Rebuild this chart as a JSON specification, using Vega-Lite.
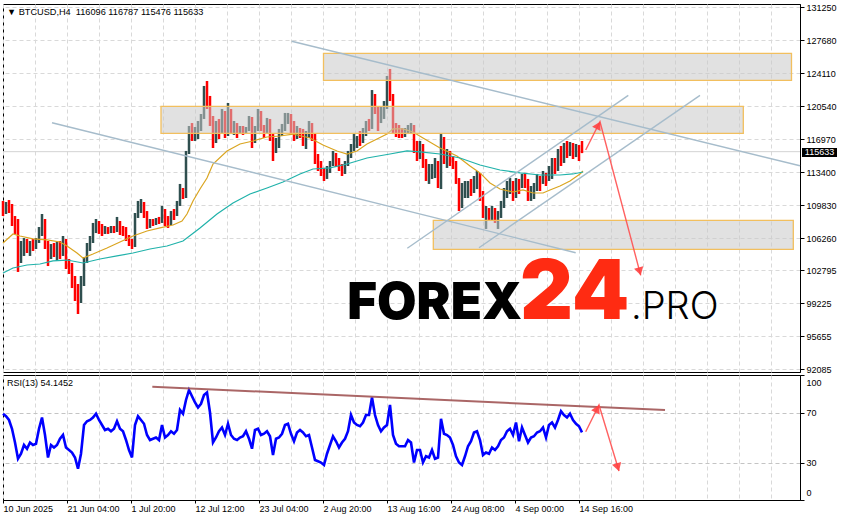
{
"$schema": "https://vega.github.io/schema/vega-lite/v6.json",
"background": "white",
"padding": {"left": -3, "top": 2, "right": 0, "bottom": 0},
"spacing": -1,
"config": {
  "view": {"stroke": "black", "strokeWidth": 1},
  "font": "Liberation Sans",
  "axis": {"labelFont": "Liberation Sans", "labelFontSize": 9, "labelColor": "black", "domainColor": "black", "tickColor": "black", "gridColor": "#d9d9d9", "gridDash": [4, 3], "gridWidth": 1, "labelOverlap": false, "title": null}
},
"resolve": {"scale": {"x": "independent", "y": "independent"}},
"datasets": {
  "bars": [
{"b":0,"o":109760,"h":110300,"l":108670,"c":109210,"r":69},
{"b":3,"o":109210,"h":110190,"l":108890,"c":109860,"r":67},
{"b":6,"o":109860,"h":110400,"l":109000,"c":109430,"r":64},
{"b":9,"o":109430,"h":109970,"l":107590,"c":107920,"r":57},
{"b":12,"o":107920,"h":108670,"l":106730,"c":107050,"r":46},
{"b":15,"o":107050,"h":108350,"l":102620,"c":104350,"r":33},
{"b":18,"o":104350,"h":105970,"l":103590,"c":105430,"r":37},
{"b":21,"o":105430,"h":106290,"l":104350,"c":105970,"r":44},
{"b":24,"o":105970,"h":106190,"l":104670,"c":105100,"r":41},
{"b":27,"o":105100,"h":105970,"l":104350,"c":105540,"r":46},
{"b":30,"o":105540,"h":106190,"l":104890,"c":105320,"r":44},
{"b":33,"o":105320,"h":106290,"l":105100,"c":105970,"r":45},
{"b":36,"o":105970,"h":107480,"l":105750,"c":107050,"r":57},
{"b":39,"o":107050,"h":108890,"l":106510,"c":107920,"r":66},
{"b":42,"o":107920,"h":108350,"l":105100,"c":105540,"r":52},
{"b":45,"o":105540,"h":105970,"l":103260,"c":104890,"r":34},
{"b":48,"o":104890,"h":105640,"l":104020,"c":105320,"r":44},
{"b":51,"o":105320,"h":105750,"l":104240,"c":104890,"r":42},
{"b":54,"o":104890,"h":105860,"l":103810,"c":105210,"r":44},
{"b":57,"o":105210,"h":105970,"l":104020,"c":104670,"r":49},
{"b":60,"o":104670,"h":106510,"l":104350,"c":105970,"r":52},
{"b":63,"o":105970,"h":106190,"l":102940,"c":103590,"r":42},
{"b":66,"o":103590,"h":104020,"l":102400,"c":103260,"r":40},
{"b":69,"o":103260,"h":103590,"l":100880,"c":101320,"r":38},
{"b":72,"o":101320,"h":102180,"l":99480,"c":100020,"r":34},
{"b":75,"o":100020,"h":101320,"l":98070,"c":99480,"r":25},
{"b":78,"o":99480,"h":102180,"l":99260,"c":101430,"r":37},
{"b":81,"o":101430,"h":104240,"l":101100,"c":103810,"r":60},
{"b":84,"o":103810,"h":105750,"l":103590,"c":105100,"r":63},
{"b":87,"o":105100,"h":106510,"l":104890,"c":105970,"r":64},
{"b":90,"o":105970,"h":107920,"l":105750,"c":107480,"r":66},
{"b":93,"o":107480,"h":108350,"l":106830,"c":107920,"r":69},
{"b":96,"o":107920,"h":108130,"l":106730,"c":107050,"r":64},
{"b":99,"o":107050,"h":107810,"l":106510,"c":106940,"r":60},
{"b":102,"o":106940,"h":107590,"l":106730,"c":107270,"r":56},
{"b":105,"o":107270,"h":107480,"l":106730,"c":107050,"r":57},
{"b":108,"o":107050,"h":107590,"l":106830,"c":107380,"r":55},
{"b":111,"o":107380,"h":107590,"l":106830,"c":107160,"r":57},
{"b":114,"o":107160,"h":108570,"l":106940,"c":107920,"r":63},
{"b":117,"o":107920,"h":108130,"l":106620,"c":107270,"r":57},
{"b":120,"o":107270,"h":107590,"l":106510,"c":107050,"r":55},
{"b":123,"o":107050,"h":107480,"l":105970,"c":106400,"r":48},
{"b":126,"o":106400,"h":106620,"l":105430,"c":105970,"r":40},
{"b":129,"o":105970,"h":106190,"l":105100,"c":105540,"r":34},
{"b":132,"o":105540,"h":109000,"l":105320,"c":108670,"r":60},
{"b":135,"o":108670,"h":110300,"l":108460,"c":109760,"r":67},
{"b":138,"o":109760,"h":110510,"l":109000,"c":109970,"r":64},
{"b":141,"o":109970,"h":110190,"l":108460,"c":109000,"r":61},
{"b":144,"o":109000,"h":109210,"l":107270,"c":107590,"r":52},
{"b":147,"o":107590,"h":108350,"l":107380,"c":108130,"r":48},
{"b":150,"o":108130,"h":108350,"l":107590,"c":107920,"r":49},
{"b":153,"o":107920,"h":108460,"l":107700,"c":108240,"r":50},
{"b":156,"o":108240,"h":108570,"l":107810,"c":108130,"r":48},
{"b":159,"o":108130,"h":109760,"l":107920,"c":109210,"r":60},
{"b":162,"o":109210,"h":109430,"l":107590,"c":108130,"r":50},
{"b":165,"o":108130,"h":108670,"l":107380,"c":107920,"r":52},
{"b":168,"o":107920,"h":109210,"l":107700,"c":108890,"r":55},
{"b":171,"o":108890,"h":109430,"l":108240,"c":108780,"r":53},
{"b":174,"o":108780,"h":110300,"l":108670,"c":109970,"r":56},
{"b":177,"o":109970,"h":112140,"l":109760,"c":111380,"r":72},
{"b":180,"o":111380,"h":111700,"l":110510,"c":110840,"r":69},
{"b":183,"o":110840,"h":115710,"l":110620,"c":115490,"r":80},
{"b":186,"o":115490,"h":118410,"l":115380,"c":117870,"r":88},
{"b":189,"o":117870,"h":118730,"l":116790,"c":117330,"r":83},
{"b":192,"o":117330,"h":118300,"l":116790,"c":117650,"r":78},
{"b":195,"o":117650,"h":118950,"l":117000,"c":118090,"r":74},
{"b":198,"o":118090,"h":119710,"l":117870,"c":119490,"r":77},
{"b":201,"o":119490,"h":122740,"l":119170,"c":122200,"r":84},
{"b":204,"o":122200,"h":123280,"l":120250,"c":120570,"r":86},
{"b":207,"o":120570,"h":121660,"l":118410,"c":118950,"r":70},
{"b":210,"o":118950,"h":119490,"l":116030,"c":116790,"r":46},
{"b":213,"o":116790,"h":118950,"l":116570,"c":118410,"r":50},
{"b":216,"o":118410,"h":119170,"l":117000,"c":117870,"r":55},
{"b":219,"o":117870,"h":120250,"l":117650,"c":119820,"r":58},
{"b":222,"o":119820,"h":120030,"l":117110,"c":117650,"r":52},
{"b":225,"o":117650,"h":120900,"l":117330,"c":120030,"r":61},
{"b":228,"o":120030,"h":120250,"l":117540,"c":118090,"r":52},
{"b":231,"o":118090,"h":118950,"l":117440,"c":118300,"r":49},
{"b":234,"o":118300,"h":118730,"l":117110,"c":117870,"r":48},
{"b":237,"o":117870,"h":118410,"l":117540,"c":118090,"r":50},
{"b":240,"o":118090,"h":118410,"l":117440,"c":117870,"r":51},
{"b":243,"o":117870,"h":118300,"l":117540,"c":118090,"r":55},
{"b":246,"o":118090,"h":119490,"l":117870,"c":119170,"r":49},
{"b":249,"o":119170,"h":119380,"l":116030,"c":116790,"r":41},
{"b":252,"o":116790,"h":118410,"l":116570,"c":118090,"r":56},
{"b":255,"o":118090,"h":120250,"l":117870,"c":119820,"r":57},
{"b":258,"o":119820,"h":120030,"l":117870,"c":118300,"r":52},
{"b":261,"o":118300,"h":118520,"l":117110,"c":117870,"r":53},
{"b":264,"o":117870,"h":119280,"l":117540,"c":118950,"r":55},
{"b":267,"o":118950,"h":119170,"l":116790,"c":117330,"r":51},
{"b":270,"o":117330,"h":117540,"l":114620,"c":115710,"r":36},
{"b":273,"o":115710,"h":117110,"l":115490,"c":116790,"r":49},
{"b":276,"o":116790,"h":118090,"l":116030,"c":117650,"r":50},
{"b":279,"o":117650,"h":118630,"l":117330,"c":118090,"r":53},
{"b":282,"o":118090,"h":119820,"l":117870,"c":119170,"r":60},
{"b":285,"o":119170,"h":119820,"l":118630,"c":119490,"r":61},
{"b":288,"o":119490,"h":119710,"l":117540,"c":118090,"r":53},
{"b":291,"o":118090,"h":118950,"l":116790,"c":117650,"r":47},
{"b":294,"o":117650,"h":118410,"l":117000,"c":117870,"r":54},
{"b":297,"o":117870,"h":118190,"l":117110,"c":117540,"r":56},
{"b":300,"o":117540,"h":118090,"l":116250,"c":116790,"r":54},
{"b":303,"o":116790,"h":117870,"l":115920,"c":117330,"r":51},
{"b":306,"o":117330,"h":118950,"l":117110,"c":118410,"r":52},
{"b":309,"o":118410,"h":118730,"l":116790,"c":117330,"r":42},
{"b":312,"o":117330,"h":117540,"l":114300,"c":114840,"r":32},
{"b":315,"o":114840,"h":115380,"l":113540,"c":114080,"r":31},
{"b":318,"o":114080,"h":114620,"l":113000,"c":113330,"r":30},
{"b":321,"o":113330,"h":113870,"l":112460,"c":112890,"r":28},
{"b":324,"o":112890,"h":114080,"l":112680,"c":113760,"r":37},
{"b":327,"o":113760,"h":114620,"l":113330,"c":114300,"r":44},
{"b":330,"o":114300,"h":115710,"l":114080,"c":115160,"r":51},
{"b":333,"o":115160,"h":115490,"l":113970,"c":114620,"r":47},
{"b":336,"o":114620,"h":114950,"l":113540,"c":114080,"r":42},
{"b":339,"o":114080,"h":114300,"l":113000,"c":113540,"r":46},
{"b":342,"o":113540,"h":114620,"l":113220,"c":114300,"r":49},
{"b":345,"o":114300,"h":115710,"l":114080,"c":115380,"r":55},
{"b":348,"o":115380,"h":116460,"l":114950,"c":115920,"r":68},
{"b":351,"o":115920,"h":117540,"l":115710,"c":117110,"r":62},
{"b":354,"o":117110,"h":117330,"l":116030,"c":117220,"r":60},
{"b":357,"o":117220,"h":117870,"l":116250,"c":116790,"r":59},
{"b":360,"o":116790,"h":118190,"l":116570,"c":117540,"r":62},
{"b":363,"o":117540,"h":118950,"l":117330,"c":118630,"r":68},
{"b":366,"o":118630,"h":119170,"l":117870,"c":118300,"r":68},
{"b":369,"o":118300,"h":122300,"l":118090,"c":121660,"r":82},
{"b":372,"o":121660,"h":121870,"l":119710,"c":120030,"r":68},
{"b":375,"o":120030,"h":120570,"l":117870,"c":119170,"r":60},
{"b":378,"o":119170,"h":120570,"l":118730,"c":120250,"r":55},
{"b":381,"o":120250,"h":121110,"l":119170,"c":120790,"r":58},
{"b":384,"o":120790,"h":123820,"l":120250,"c":123280,"r":60},
{"b":387,"o":123280,"h":124580,"l":121110,"c":121660,"r":76},
{"b":390,"o":121660,"h":121870,"l":117540,"c":118410,"r":52},
{"b":393,"o":118410,"h":118730,"l":117220,"c":118090,"r":45},
{"b":396,"o":118090,"h":118520,"l":117110,"c":117870,"r":43},
{"b":399,"o":117870,"h":118190,"l":117110,"c":117540,"r":43},
{"b":402,"o":117540,"h":118190,"l":117220,"c":117870,"r":43},
{"b":405,"o":117870,"h":118520,"l":117540,"c":118190,"r":48},
{"b":408,"o":118190,"h":118730,"l":117540,"c":118300,"r":46},
{"b":411,"o":118300,"h":118520,"l":115490,"c":115920,"r":30},
{"b":414,"o":115920,"h":116790,"l":114620,"c":115160,"r":40},
{"b":417,"o":115160,"h":116790,"l":114840,"c":116250,"r":40},
{"b":420,"o":116250,"h":116460,"l":113870,"c":114620,"r":30},
{"b":423,"o":114620,"h":114840,"l":112460,"c":113000,"r":35},
{"b":426,"o":113000,"h":114300,"l":112140,"c":113540,"r":34},
{"b":429,"o":113540,"h":114300,"l":112680,"c":113760,"r":40},
{"b":432,"o":113760,"h":114950,"l":112780,"c":114410,"r":33},
{"b":435,"o":114410,"h":114620,"l":111700,"c":112460,"r":34},
{"b":438,"o":112460,"h":117540,"l":111590,"c":117000,"r":65},
{"b":441,"o":117000,"h":117220,"l":114300,"c":114840,"r":53},
{"b":444,"o":114840,"h":115920,"l":113870,"c":115160,"r":52},
{"b":447,"o":115160,"h":115710,"l":114080,"c":114620,"r":50},
{"b":450,"o":114620,"h":115160,"l":113760,"c":114410,"r":44},
{"b":453,"o":114410,"h":114620,"l":112140,"c":112680,"r":35},
{"b":456,"o":112680,"h":112780,"l":109210,"c":109970,"r":30},
{"b":459,"o":109970,"h":112240,"l":109540,"c":111380,"r":28},
{"b":462,"o":111380,"h":112460,"l":110620,"c":111920,"r":35},
{"b":465,"o":111920,"h":112460,"l":110620,"c":112140,"r":43},
{"b":468,"o":112140,"h":112680,"l":110840,"c":111590,"r":47},
{"b":471,"o":111590,"h":113000,"l":111160,"c":112680,"r":54},
{"b":474,"o":112680,"h":113540,"l":111590,"c":113110,"r":55},
{"b":477,"o":113110,"h":113330,"l":110300,"c":110730,"r":48},
{"b":480,"o":110730,"h":111380,"l":108460,"c":109000,"r":36},
{"b":483,"o":109000,"h":109760,"l":107270,"c":109210,"r":38},
{"b":486,"o":109210,"h":109540,"l":108130,"c":108780,"r":37},
{"b":489,"o":108780,"h":109760,"l":108130,"c":109320,"r":42},
{"b":492,"o":109320,"h":109540,"l":107920,"c":108670,"r":40},
{"b":495,"o":108670,"h":109210,"l":107270,"c":109000,"r":43},
{"b":498,"o":109000,"h":110300,"l":108460,"c":109970,"r":48},
{"b":501,"o":109970,"h":111700,"l":109540,"c":111380,"r":50},
{"b":504,"o":111380,"h":112460,"l":110620,"c":111920,"r":55},
{"b":507,"o":111920,"h":112780,"l":111050,"c":112240,"r":57},
{"b":510,"o":112240,"h":112460,"l":110300,"c":110840,"r":52},
{"b":513,"o":110840,"h":112780,"l":110620,"c":112460,"r":62},
{"b":516,"o":112460,"h":112680,"l":111050,"c":111920,"r":47},
{"b":519,"o":111920,"h":113220,"l":111700,"c":112890,"r":58},
{"b":522,"o":112890,"h":113330,"l":111700,"c":112460,"r":52},
{"b":525,"o":112460,"h":112680,"l":110300,"c":110840,"r":46},
{"b":528,"o":110840,"h":111920,"l":110300,"c":111380,"r":50},
{"b":531,"o":111380,"h":112240,"l":110510,"c":111810,"r":51},
{"b":534,"o":111810,"h":113220,"l":111380,"c":112890,"r":54},
{"b":537,"o":112890,"h":113000,"l":111380,"c":112460,"r":55},
{"b":540,"o":112460,"h":113540,"l":112140,"c":113220,"r":58},
{"b":543,"o":113220,"h":113330,"l":111920,"c":112680,"r":50},
{"b":546,"o":112680,"h":114080,"l":112460,"c":113760,"r":60},
{"b":549,"o":113760,"h":114950,"l":112680,"c":114620,"r":62},
{"b":552,"o":114620,"h":114950,"l":113220,"c":114080,"r":58},
{"b":555,"o":114080,"h":115920,"l":113540,"c":115490,"r":64},
{"b":558,"o":115490,"h":116250,"l":114080,"c":114620,"r":71},
{"b":561,"o":114620,"h":116570,"l":114410,"c":116140,"r":68},
{"b":564,"o":116140,"h":116790,"l":114950,"c":115710,"r":66},
{"b":567,"o":115710,"h":116680,"l":115160,"c":116250,"r":69},
{"b":570,"o":116250,"h":116570,"l":114840,"c":115490,"r":64},
{"b":573,"o":115490,"h":116460,"l":115050,"c":116140,"r":61},
{"b":576,"o":116140,"h":116350,"l":114620,"c":116030,"r":59},
{"b":579,"o":116096,"h":116787,"l":115476,"c":115633,"r":54.1452}
  ],
  "ma": [
{"s":"fast","b":0,"p":105750},{"s":"fast","b":10,"p":106730},{"s":"fast","b":17,"p":106510},{"s":"fast","b":30,"p":106190},{"s":"fast","b":44,"p":106080},{"s":"fast","b":57,"p":105860},{"s":"fast","b":64,"p":105430},{"s":"fast","b":74,"p":104670},{"s":"fast","b":80,"p":104130},{"s":"fast","b":90,"p":104560},{"s":"fast","b":104,"p":105210},{"s":"fast","b":117,"p":105860},{"s":"fast","b":130,"p":106510},{"s":"fast","b":144,"p":107050},{"s":"fast","b":157,"p":107380},{"s":"fast","b":170,"p":107700},{"s":"fast","b":179,"p":108130},{"s":"fast","b":184,"p":108890},{"s":"fast","b":190,"p":110300},{"s":"fast","b":197,"p":111590},{"s":"fast","b":204,"p":112780},{"s":"fast","b":210,"p":114300},{"s":"fast","b":224,"p":115710},{"s":"fast","b":237,"p":116460},{"s":"fast","b":250,"p":116790},{"s":"fast","b":264,"p":117220},{"s":"fast","b":277,"p":117330},{"s":"fast","b":290,"p":117540},{"s":"fast","b":307,"p":117110},{"s":"fast","b":320,"p":116350},{"s":"fast","b":334,"p":115710},{"s":"fast","b":344,"p":115380},{"s":"fast","b":354,"p":115710},{"s":"fast","b":364,"p":116460},{"s":"fast","b":374,"p":117000},{"s":"fast","b":384,"p":117540},{"s":"fast","b":390,"p":118090},{"s":"fast","b":400,"p":118090},{"s":"fast","b":410,"p":117760},{"s":"fast","b":420,"p":117110},{"s":"fast","b":437,"p":116030},{"s":"fast","b":454,"p":115160},{"s":"fast","b":467,"p":114080},{"s":"fast","b":477,"p":113330},{"s":"fast","b":487,"p":112240},{"s":"fast","b":497,"p":111590},{"s":"fast","b":510,"p":111270},{"s":"fast","b":520,"p":111490},{"s":"fast","b":530,"p":111160},{"s":"fast","b":540,"p":111160},{"s":"fast","b":547,"p":111490},{"s":"fast","b":557,"p":111920},{"s":"fast","b":567,"p":112460},{"s":"fast","b":577,"p":113220},{"s":"fast","b":580,"p":113540},
{"s":"slow","b":0,"p":102510},{"s":"slow","b":10,"p":103050},{"s":"slow","b":24,"p":103370},{"s":"slow","b":37,"p":103480},{"s":"slow","b":50,"p":103810},{"s":"slow","b":64,"p":103910},{"s":"slow","b":80,"p":103590},{"s":"slow","b":97,"p":104020},{"s":"slow","b":114,"p":104350},{"s":"slow","b":130,"p":104670},{"s":"slow","b":147,"p":105100},{"s":"slow","b":164,"p":105430},{"s":"slow","b":180,"p":105970},{"s":"slow","b":197,"p":107380},{"s":"slow","b":214,"p":108890},{"s":"slow","b":230,"p":110080},{"s":"slow","b":247,"p":111050},{"s":"slow","b":264,"p":111700},{"s":"slow","b":280,"p":112350},{"s":"slow","b":297,"p":113220},{"s":"slow","b":310,"p":113760},{"s":"slow","b":327,"p":113870},{"s":"slow","b":344,"p":114300},{"s":"slow","b":364,"p":114950},{"s":"slow","b":387,"p":115380},{"s":"slow","b":404,"p":115710},{"s":"slow","b":417,"p":115600},{"s":"slow","b":437,"p":115380},{"s":"slow","b":457,"p":114950},{"s":"slow","b":477,"p":114190},{"s":"slow","b":497,"p":113650},{"s":"slow","b":517,"p":113330},{"s":"slow","b":537,"p":113110},{"s":"slow","b":557,"p":113110},{"s":"slow","b":570,"p":113220},{"s":"slow","b":580,"p":113430}
  ],
  "zones": [
{"b1":320.5,"b2":788.5,"p1":126274,"p2":123353},
{"b1":158,"b2":740.3,"p1":120540,"p2":117619},
{"b1":430.3,"b2":790.3,"p1":108208,"p2":105071}
  ],
  "lines": [
{"id":"L1","b":49,"p":118766},{"id":"L1","b":572.7,"p":104703},
{"id":"L2","b":288.7,"p":127572},{"id":"L2","b":797,"p":114104},
{"id":"L3","b":404.3,"p":105179},{"id":"L3","b":625.3,"p":121730},
{"id":"L4","b":476,"p":105243},{"id":"L4","b":697,"p":121730}
  ],
  "arrow": [
{"b":582.7,"p":115812},{"b":597,"p":118874},{"b":637.7,"p":102257}
  ],
  "rsiline": [
{"b":149.3,"r":90.6},{"b":662,"r":72}
  ],
  "rsiarrow": [
{"b":582.7,"r":54.6},{"b":596,"r":76},{"b":616,"r":23.2}
  ]
},
"vconcat": [
{
  "width": 797,
  "height": 368,
  "layer": [
    {
      "data": {"values": [{"v": 115633}]},
      "mark": {"type": "rule", "color": "#d4d4d4", "strokeWidth": 1},
      "encoding": {
        "y": {"field": "v", "type": "quantitative", "scale": {"domain": [91797, 131607], "nice": false, "zero": false},
              "axis": {"orient": "right", "values": [92085, 95655, 99225, 102795, 106260, 109830, 113400, 116970, 120540, 124110, 127680, 131250], "tickCount": 40, "format": "d", "tickSize": 4, "labelPadding": 2, "labelOverlap": false, "labelBound": false, "grid": true, "title": null}}
      }
    },
    {
      "data": {"name": "bars"},
      "mark": {"type": "rule", "strokeWidth": 2.5},
      "encoding": {
        "x": {"field": "b", "type": "quantitative", "scale": {"domain": [0, 797], "nice": false, "zero": false},
              "axis": {"orient": "bottom", "values": [0,32,64,96,128,160,192,224,256,288,320,352,384,416,448,480,512,544,576,608,640,672,704,736,768], "tickCount": 60, "labels": false, "ticks": false, "domain": false, "grid": true, "title": null, "minExtent": 0, "maxExtent": 0, "offset": 0}},
        "y": {"field": "l", "type": "quantitative", "axis": {"orient": "right", "title": null}},
        "y2": {"field": "h"},
        "color": {"condition": {"test": "datum.c > datum.o", "value": "#2f4f4f"}, "value": "#ff0000"}
      }
    },
    {
      "data": {"name": "ma"},
      "mark": {"type": "line", "strokeWidth": 1.2},
      "encoding": {
        "x": {"field": "b", "type": "quantitative"},
        "y": {"field": "p", "type": "quantitative", "axis": {"orient": "right", "title": null}},
        "color": {"field": "s", "type": "nominal", "scale": {"domain": ["fast", "slow"], "range": ["#daa520", "#20b2aa"]}, "legend": null}
      }
    },
    {
      "data": {"name": "zones"},
      "mark": {"type": "rect", "fill": "#c8c8c8", "fillOpacity": 0.55, "stroke": "#f2bf5e", "strokeWidth": 1.3},
      "encoding": {
        "x": {"field": "b1", "type": "quantitative"},
        "x2": {"field": "b2"},
        "y": {"field": "p1", "type": "quantitative", "axis": {"orient": "right", "title": null}},
        "y2": {"field": "p2"}
      }
    },
    {
      "data": {"name": "lines"},
      "mark": {"type": "line", "color": "#a6bccb", "strokeWidth": 1.4},
      "encoding": {
        "x": {"field": "b", "type": "quantitative"},
        "y": {"field": "p", "type": "quantitative", "axis": {"orient": "right", "title": null}},
        "detail": {"field": "id"}
      }
    },
    {
      "data": {"name": "arrow"},
      "mark": {"type": "line", "color": "#ff5050", "strokeWidth": 1.4, "opacity": 0.9},
      "encoding": {
        "x": {"field": "b", "type": "quantitative"},
        "y": {"field": "p", "type": "quantitative", "axis": {"orient": "right", "title": null}}
      }
    },
    {
      "data": {"values": [{}]},
      "mark": {"type": "point", "shape": "triangle-up", "filled": true, "size": 90, "angle": 27, "color": "#ff4040", "opacity": 0.9},
      "encoding": {"x": {"datum": 595.2}, "y": {"datum": 118485}}
    },
    {
      "data": {"values": [{}]},
      "mark": {"type": "point", "shape": "triangle-up", "filled": true, "size": 90, "angle": 165, "color": "#ff4040", "opacity": 0.9},
      "encoding": {"x": {"datum": 636.7}, "y": {"datum": 102680}}
    },
    {
      "data": {"values": [{"t": "▼ BTCUSD,H4\u00a0 116096 116787 115476 115633"}]},
      "mark": {"type": "text", "align": "left", "baseline": "middle", "font": "Liberation Sans", "fontSize": 9.2, "color": "black"},
      "encoding": {"x": {"datum": 4}, "y": {"datum": 130742}, "text": {"field": "t"}}
    },
    {
      "data": {"values": [{"t": "FOREX"}]},
      "mark": {"type": "text", "align": "right", "baseline": "alphabetic", "font": "Inter", "fontWeight": 900, "fontSize": 51, "color": "#000000"},
      "encoding": {"x": {"datum": 519}, "y": {"datum": 97531}, "text": {"field": "t"}}
    },
    {
      "data": {"values": [{"t": "24"}]},
      "mark": {"type": "text", "align": "left", "baseline": "alphabetic", "font": "Inter", "fontWeight": 900, "fontSize": 82, "color": "#ff2b12"},
      "encoding": {"x": {"datum": 517}, "y": {"datum": 97531}, "text": {"field": "t"}}
    },
    {
      "data": {"values": [{"t": ".PRO"}]},
      "mark": {"type": "text", "align": "left", "baseline": "alphabetic", "font": "Inter", "fontWeight": 300, "fontSize": 38, "color": "#000000"},
      "encoding": {"x": {"datum": 628}, "y": {"datum": 97531}, "text": {"field": "t"}}
    },
    {
      "data": {"values": [{}]},
      "mark": {"type": "rect", "fill": "black"},
      "encoding": {"x": {"datum": 799}, "x2": {"datum": 834}, "y": {"datum": 116030}, "y2": {"datum": 115056}}
    },
    {
      "data": {"values": [{"t": "115633"}]},
      "mark": {"type": "text", "align": "center", "baseline": "middle", "font": "Liberation Sans", "fontSize": 9, "color": "white"},
      "encoding": {"x": {"datum": 816.5}, "y": {"datum": 115543}, "text": {"field": "t"}}
    }
  ]
},
{
  "width": 797,
  "height": 125,
  "layer": [
    {
      "data": {"name": "bars"},
      "mark": {"type": "line", "color": "#0000ff", "strokeWidth": 2.6},
      "encoding": {
        "x": {"field": "b", "type": "quantitative", "scale": {"domain": [0, 797], "nice": false, "zero": false},
              "axis": {"orient": "bottom", "values": [0,32,64,96,128,160,192,224,256,288,320,352,384,416,448,480,512,544,576,608,640,672,704,736,768], "tickCount": 60,
                       "labelExpr": "(datum.value % 64 == 0 && datum.value <= 576) ? ['10 Jun 2025','21 Jun 04:00','1 Jul 20:00','12 Jul 12:00','23 Jul 04:00','2 Aug 20:00','13 Aug 16:00','24 Aug 08:00','4 Sep 00:00','14 Sep 16:00'][datum.value / 64] : ''",
                       "labelAlign": "left", "labelBaseline": "top", "labelPadding": 1, "labelFlush": false, "labelBound": false, "labelOverlap": false,
                       "tickSize": 3, "tickOpacity": {"condition": {"test": "datum.value % 64 == 0 && datum.value <= 576", "value": 1}, "value": 0},
                       "domain": true, "grid": true, "title": null}},
        "y": {"field": "r", "type": "quantitative", "scale": {"domain": [0, 100], "nice": false, "zero": false},
              "axis": {"orient": "right", "values": [0, 30, 70, 100], "tickCount": 10, "tickSize": 4, "labelPadding": 2, "labelFlush": false, "labelOverlap": false, "labelBaseline": "middle",
                       "labelOffset": {"condition": [{"test": "datum.value == 100", "value": 7}, {"test": "datum.value == 0", "value": -8}], "value": 0},
                       "grid": true, "gridColor": "#c4c4c4",
                       "gridOpacity": {"condition": {"test": "datum.value == 30 || datum.value == 70", "value": 1}, "value": 0}, "title": null}}
      }
    },
    {
      "data": {"name": "rsiline"},
      "mark": {"type": "line", "color": "#9b4b4b", "strokeWidth": 2, "opacity": 0.85},
      "encoding": {"x": {"field": "b", "type": "quantitative"}, "y": {"field": "r", "type": "quantitative", "axis": {"orient": "right", "title": null}}}
    },
    {
      "data": {"name": "rsiarrow"},
      "mark": {"type": "line", "color": "#ff5050", "strokeWidth": 1.4, "opacity": 0.9},
      "encoding": {"x": {"field": "b", "type": "quantitative"}, "y": {"field": "r", "type": "quantitative", "axis": {"orient": "right", "title": null}}}
    },
    {
      "data": {"values": [{}]},
      "mark": {"type": "point", "shape": "triangle-up", "filled": true, "size": 90, "angle": 26, "color": "#ff4040", "opacity": 0.9},
      "encoding": {"x": {"datum": 594.2}, "y": {"datum": 73.1}}
    },
    {
      "data": {"values": [{}]},
      "mark": {"type": "point", "shape": "triangle-up", "filled": true, "size": 90, "angle": 163, "color": "#ff4040", "opacity": 0.9},
      "encoding": {"x": {"datum": 614.8}, "y": {"datum": 26.2}}
    },
    {
      "data": {"values": [{"t": "RSI(13) 54.1452"}]},
      "mark": {"type": "text", "align": "left", "baseline": "middle", "font": "Liberation Sans", "fontSize": 9, "color": "black"},
      "encoding": {"x": {"datum": 4}, "y": {"datum": 93.6}, "text": {"field": "t"}}
    }
  ]
}
]
}
